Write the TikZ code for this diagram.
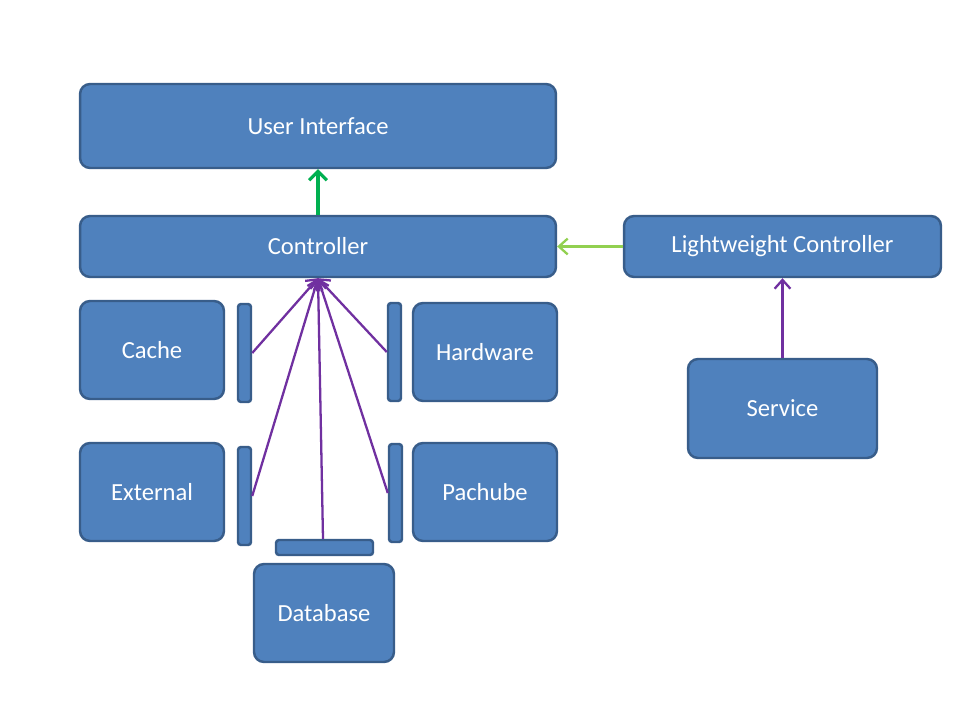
\documentclass[tikz,border=0pt]{standalone}
\usepackage{fontspec}
\setmainfont{Carlito}
\usetikzlibrary{arrows.meta,positioning}
\definecolor{boxfill}{HTML}{4F81BD}
\definecolor{boxline}{HTML}{385D8A}
\definecolor{upgreen}{HTML}{00B050}
\definecolor{ltgreen}{HTML}{92D050}
\definecolor{linkpurple}{HTML}{7030A0}
\begin{document}
\begin{tikzpicture}[
    x=0.02cm, y=-0.02cm,
    block/.style={draw=boxline, fill=boxfill, line width=1.4pt, rounded corners=0.2cm, text=white, font=\fontsize{14}{16}\selectfont, inner sep=0pt},
    bar/.style={draw=boxline, fill=boxfill, line width=1.4pt, rounded corners=0.06cm, inner sep=0pt},
    link/.style={draw=linkpurple, line width=1.3pt, -{Straight Barb[length=5pt,width=9pt]}}
]
    \useasboundingbox[fill=white] (0,0) rectangle (960,720);

    % Main blocks
    \node[block, minimum width=9.52cm, minimum height=1.68cm] (ui) at (318,126) {User Interface};
    \node[block, minimum width=9.52cm, minimum height=1.22cm] (ctrl) at (318,246.5) {Controller};
    \node[block, minimum width=6.34cm, minimum height=1.22cm] (lw) at (782.5,246.5) {Lightweight Controller};
    \node[block, minimum width=3.78cm, minimum height=1.98cm] (svc) at (782.5,408.5) {Service};

    % Sources
    \node[block, minimum width=2.88cm, minimum height=1.96cm] (cache) at (152,350) {Cache};
    \node[block, minimum width=2.88cm, minimum height=1.96cm] (hw) at (485,352) {Hardware};
    \node[block, minimum width=2.88cm, minimum height=1.96cm] (ext) at (152,492) {External};
    \node[block, minimum width=2.88cm, minimum height=1.96cm] (pach) at (485,492) {Pachube};
    \node[block, minimum width=2.8cm, minimum height=1.96cm] (db) at (324,613) {Database};

    % Interface bars
    \node[bar, minimum width=0.26cm, minimum height=1.96cm] (cachebar) at (244.5,353) {};
    \node[bar, minimum width=0.26cm, minimum height=1.96cm] (extbar) at (244.5,496) {};
    \node[bar, minimum width=0.26cm, minimum height=1.96cm] (hwbar) at (394.5,352) {};
    \node[bar, minimum width=0.26cm, minimum height=1.96cm] (pachbar) at (395.5,493) {};
    \node[bar, minimum width=1.94cm, minimum height=0.3cm] (dbbar) at (324.5,547.5) {};

    % Arrows
    \draw[draw=upgreen, line width=1.8pt, -{Straight Barb[length=5pt,width=10pt]}] (ctrl.north) -- (ui.south);
    \draw[draw=ltgreen, line width=1.3pt, -{Straight Barb[length=5pt,width=9pt]}] (lw.west) -- (ctrl.east);
    \draw[link] (svc.north) -- (lw.south);
    \draw[link] (cachebar.east) -- (ctrl.south);
    \draw[link] (extbar.east) -- (ctrl.south);
    \draw[link] (hwbar.west) -- (ctrl.south);
    \draw[link] (pachbar.west) -- (ctrl.south);
    \draw[link] (dbbar.north -| 323,0) -- (ctrl.south);
\end{tikzpicture}
\end{document}
